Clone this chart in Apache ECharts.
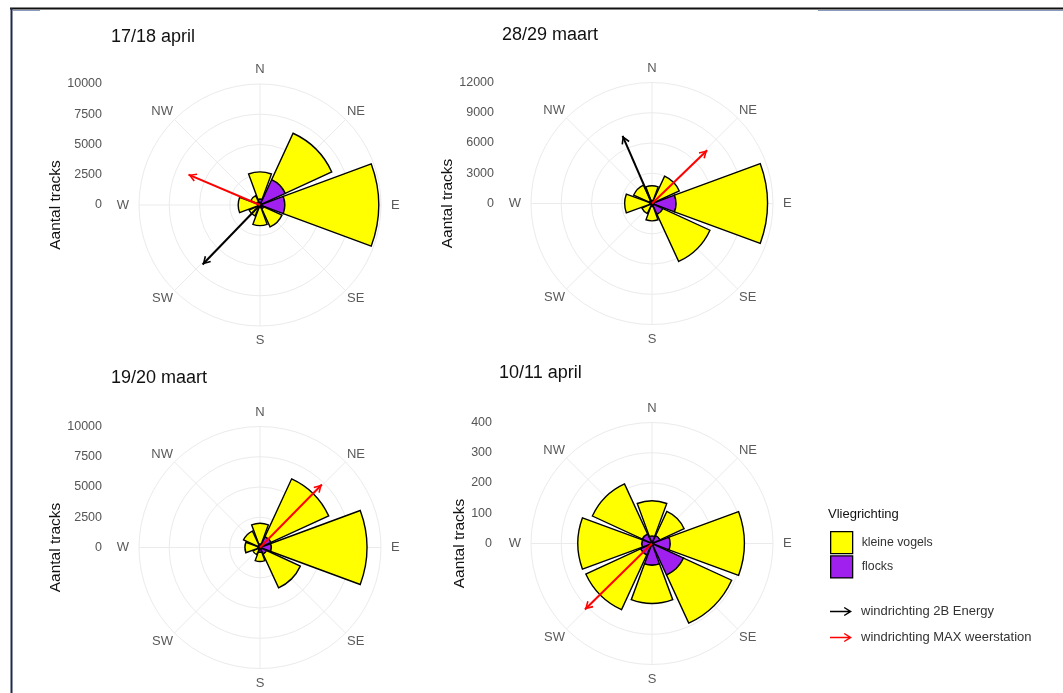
<!DOCTYPE html>
<html>
<head>
<meta charset="utf-8">
<script src="https://cdn.jsdelivr.net/npm/echarts@6/dist/echarts.min.js"></script>
<style>
  html, body { margin: 0; padding: 0; background: #ffffff; }
  #chart { width: 1063px; height: 693px; }
</style>
</head>
<body>
<div id="chart"></div>
<script>
// Compass sectors, clockwise from north
const directions = ['N', 'NE', 'E', 'SE', 'S', 'SW', 'W', 'NW'];
const titles = ['17/18 april', '28/29 maart', '19/20 maart', '10/11 april'];
const radiusMax = [10000, 12000, 10000, 400];

// Track counts per flight direction (flocks drawn inside, kleine vogels stacked outside)
const flocksApr17 = [500, 2300, 2050, 350, 200, 150, 200, 300];
const kleineApr17 = [2230, 4230, 7750, 1650, 1500, 850, 1600, 550];
const flocksMar28 = [300, 300, 2380, 1200, 300, 200, 250, 300];
const kleineMar28 = [1450, 2680, 9060, 5130, 1420, 900, 2460, 1700];
const flocksMar19 = [300, 1000, 950, 600, 400, 200, 200, 200];
const kleineMar19 = [1700, 5250, 7880, 3070, 750, 450, 1050, 1300];
const flocksApr10 = [25, 29, 60, 115, 72, 42, 34, 35];
const kleineApr10 = [116, 88, 245, 175, 126, 199, 211, 182];

// Wind direction arrows: [bearing in degrees from north, length in track units]
const wind2BApr17 = [224, 6830];
const windMaxApr17 = [293, 6420];
const wind2BMar28 = [336.5, 7320];
const windMaxMar28 = [46, 7610];
const windMaxMar19 = [44.5, 7300];
const windMaxApr10 = [225.5, 311];

const flocksData = [flocksApr17, flocksMar28, flocksMar19, flocksApr10];
const kleineData = [kleineApr17, kleineMar28, kleineMar19, kleineApr10];
const wind2BData = [wind2BApr17, wind2BMar28, null, null];
const windMaxData = [windMaxApr17, windMaxMar28, windMaxMar19, windMaxApr10];

// Panel placement on the page
const panelLayout = [
  { cx: 260, cy: 205,   titleX: 111, titleY: 28,  labelRight: 102, nameX: 57 },
  { cx: 652, cy: 203.5, titleX: 502, titleY: 26,  labelRight: 494, nameX: 448 },
  { cx: 260, cy: 547.5, titleX: 111, titleY: 369, labelRight: 102, nameX: 57 },
  { cx: 652, cy: 543.5, titleX: 499, titleY: 364, labelRight: 492, nameX: 460 }
];
const R = 121;
const FONT = '"Liberation Sans", Arial, Helvetica, sans-serif';
const GRID_COLOR = '#ebebeb';
const YELLOW = '#FFFF00';
const PURPLE = '#A020F0';

// Open arrowhead, pointing up, tip at the centre of its box
const ARROW_HEAD = 'path://M5,0 L5.02,0 L5,0.02 Z M5,20 L5.02,20 L5,19.98 Z ' +
  'M5,10 L9.4,17.4 L8,18.2 L5,13 L2,18.2 L0.6,17.4 Z';
// Legend icon: arrow pointing right
const ARROW_ICON = 'path://M0,4.2 L20.5,4.2 L20.5,5.8 L0,5.8 Z ' +
  'M14.6,0.4 L22,5 L14.6,9.6 L13.8,8.4 L19.4,5 L13.8,1.6 Z';

function arrowSeries(wind, name, color, polarIndex) {
  return {
    type: 'line',
    name: name,
    coordinateSystem: 'polar',
    polarIndex: polarIndex,
    symbol: 'none',
    silent: true,
    z: 5,
    lineStyle: { color: color, width: 2 },
    itemStyle: { color: color, borderWidth: 0 },
    data: [
      { value: [0, wind[0]], symbol: 'none' },
      { value: [wind[1], wind[0]], symbol: ARROW_HEAD, symbolSize: [8.8, 20],
        symbolRotate: -wind[0] }
    ]
  };
}

const polar = [], angleAxis = [], radiusAxis = [];
const grid = [], xAxis = [], yAxis = [];
const series = [], title = [];

panelLayout.forEach(function (p, i) {
  const M = radiusMax[i];
  const gIdx = 2 * i;      // grid lines, compass labels, wind arrows
  const bIdx = 2 * i + 1;  // stacked sector bars

  polar.push({ center: [p.cx, p.cy], radius: R });
  polar.push({ center: [p.cx, p.cy], radius: R });

  angleAxis.push({
    polarIndex: gIdx, type: 'value', min: 0, max: 360, interval: 45,
    startAngle: 90, clockwise: true,
    axisLine: { show: false }, axisTick: { show: false },
    splitLine: { show: true, lineStyle: { color: GRID_COLOR, width: 1 } },
    axisLabel: {
      margin: 2, color: '#5a5a5a', fontSize: 13, fontFamily: FONT,
      formatter: function (v) {
        const k = Math.round(v / 45);
        if (k >= directions.length) return '';
        const style = (k % 4 === 0) ? 'v' : (k % 2 === 0 ? 'h' : 'd');
        return '{' + style + '|' + directions[k] + '}';
      },
      rich: {
        v: { padding: [6, 0, 6, 0], fontSize: 13, color: '#5a5a5a', fontFamily: FONT },
        h: { padding: [0, 8, 0, 8], fontSize: 13, color: '#5a5a5a', fontFamily: FONT },
        d: { fontSize: 13, color: '#5a5a5a', fontFamily: FONT }
      }
    }
  });
  angleAxis.push({
    polarIndex: bIdx, type: 'category', data: directions,
    startAngle: 90 + 22.5, clockwise: true,
    axisLine: { show: false }, axisTick: { show: false },
    axisLabel: { show: false }, splitLine: { show: false }
  });

  radiusAxis.push({
    polarIndex: gIdx, type: 'value', min: 0, max: M, interval: M / 4,
    axisLine: { show: false }, axisTick: { show: false }, axisLabel: { show: false },
    splitLine: { show: true, lineStyle: { color: GRID_COLOR, width: 1 } }
  });
  radiusAxis.push({
    polarIndex: bIdx, type: 'value', min: 0, max: M,
    axisLine: { show: false }, axisTick: { show: false }, axisLabel: { show: false },
    splitLine: { show: false }
  });

  // Count axis on the left of each rose, sharing the radial scale
  const axisX = p.labelRight + 3;
  grid.push({ left: axisX, top: p.cy - R, width: 10, height: 2 * R, containLabel: false });
  xAxis.push({ gridIndex: i, type: 'value', show: false });
  yAxis.push({
    gridIndex: i, type: 'value', min: -M, max: M, interval: M / 4,
    axisLine: { show: false }, axisTick: { show: false }, splitLine: { show: false },
    axisLabel: {
      margin: 3, color: '#555555', fontSize: 12.5, fontFamily: FONT,
      formatter: function (v) { return v < 0 ? '' : String(v); }
    },
    name: 'Aantal tracks', nameLocation: 'middle',
    nameGap: axisX - p.nameX - 8,
    nameTextStyle: { color: '#111111', fontSize: 15.5, fontFamily: FONT }
  });

  title.push({
    text: titles[i], left: p.titleX, top: p.titleY, padding: 0,
    textStyle: { color: '#111111', fontSize: 18, fontWeight: 'normal', fontFamily: FONT }
  });

  const barCommon = {
    type: 'bar', coordinateSystem: 'polar', polarIndex: bIdx,
    stack: 'rose' + i, barWidth: '90%', silent: true, z: 2
  };
  series.push(Object.assign({}, barCommon, {
    name: 'flocks', data: flocksData[i],
    itemStyle: { color: PURPLE, borderColor: '#000000', borderWidth: 1.4 }
  }));
  series.push(Object.assign({}, barCommon, {
    name: 'kleine vogels', data: kleineData[i],
    itemStyle: { color: YELLOW, borderColor: '#000000', borderWidth: 1.4 }
  }));

  if (wind2BData[i]) series.push(arrowSeries(wind2BData[i], 'windrichting 2B Energy', '#000000', gIdx));
  if (windMaxData[i]) series.push(arrowSeries(windMaxData[i], 'windrichting MAX weerstation', '#FF0000', gIdx));
});

title.push({
  text: 'Vliegrichting', left: 828, top: 508, padding: 0,
  textStyle: { color: '#111111', fontSize: 13, fontWeight: 'normal', fontFamily: FONT }
});

const option = {
  animation: false,
  backgroundColor: '#ffffff',
  textStyle: { fontFamily: FONT },
  title: title,
  polar: polar,
  angleAxis: angleAxis,
  radiusAxis: radiusAxis,
  grid: grid,
  xAxis: xAxis,
  yAxis: yAxis,
  legend: [
    {
      data: [{ name: 'kleine vogels' }, { name: 'flocks' }],
      left: 830, top: 531, orient: 'vertical', padding: 0,
      itemWidth: 22, itemHeight: 22, itemGap: 1, icon: 'rect',
      selectedMode: false,
      itemStyle: { borderColor: '#000000', borderWidth: 1.3 },
      textStyle: { fontSize: 12.3, color: '#333333', fontFamily: FONT, padding: [0, 0, 0, 4] }
    },
    {
      data: [
        { name: 'windrichting 2B Energy', icon: ARROW_ICON },
        { name: 'windrichting MAX weerstation', icon: ARROW_ICON }
      ],
      left: 830, top: 605, orient: 'vertical', padding: 0,
      itemWidth: 22, itemHeight: 10, itemGap: 13,
      selectedMode: false,
      itemStyle: { borderWidth: 0 },
      textStyle: { fontSize: 13, color: '#333333', fontFamily: FONT, padding: [0, 0, 0, 4] }
    }
  ],
  graphic: [
    { type: 'line', shape: { x1: 10, y1: 8.5, x2: 1063, y2: 8.5 }, style: { stroke: '#111111', lineWidth: 2 } },
    { type: 'line', shape: { x1: 11.5, y1: 8, x2: 11.5, y2: 693 }, style: { stroke: '#1e2b48', lineWidth: 2 } },
    { type: 'line', shape: { x1: 13, y1: 10.5, x2: 40, y2: 10.5 }, style: { stroke: '#8a9cc0', lineWidth: 1 } },
    { type: 'line', shape: { x1: 818, y1: 10.5, x2: 1063, y2: 10.5 }, style: { stroke: '#8a9cc0', lineWidth: 1 } }
  ],
  series: series
};

const chart = echarts.init(document.getElementById('chart'), null, { renderer: 'canvas' });
chart.setOption(option);
</script>
</body>
</html>
